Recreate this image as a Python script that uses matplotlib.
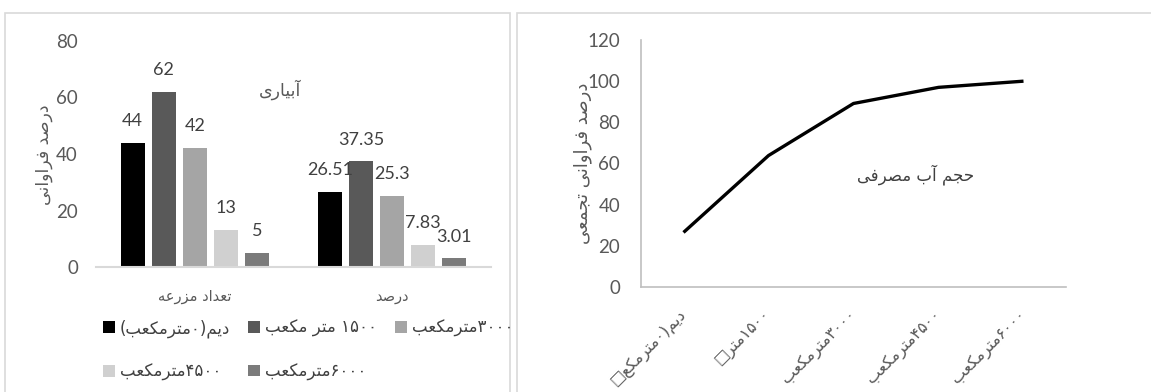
import matplotlib
matplotlib.use("Agg")
import matplotlib.pyplot as plt
from matplotlib.patches import Rectangle
import numpy as np

# data
categories = ["تعداد مزرعه", "درصد"]
series_names = ["دیم(۰مترمکعب)", "۱۵۰۰ متر مکعب", "۳۰۰۰مترمکعب", "۴۵۰۰مترمکعب", "۶۰۰۰مترمکعب"]
farm_counts = [44, 62, 42, 13, 5]
percents = [26.51, 37.35, 25.3, 7.83, 3.01]
bar_colors = ["#000000", "#595959", "#a5a5a5", "#d0d0d0", "#7b7b7b"]

cum_labels = ["دیم(۰مترمکع□", "۱۵۰۰متر□", "۳۰۰۰مترمکعب", "۴۵۰۰مترمکعب", "۶۰۰۰مترمکعب"]
cum_percent = [26.51, 63.86, 89.16, 96.99, 100]

left_title = "آبیاری"
left_ylabel = "درصد فراوانی"
right_title = "حجم آب مصرفی"
right_ylabel = "درصد فراوانی تجمعی"


# --- tiny arabic/persian shaper (matplotlib has no shaping) ---
# iso, fin, ini, med ; None for letters that do not join forward
FORMS = {
    'ا': (0xFE8D, 0xFE8E, None, None), 'آ': (0xFE81, 0xFE82, None, None),
    'ب': (0xFE8F, 0xFE90, 0xFE91, 0xFE92), 'پ': (0xFB56, 0xFB57, 0xFB58, 0xFB59),
    'ت': (0xFE95, 0xFE96, 0xFE97, 0xFE98), 'ج': (0xFE9D, 0xFE9E, 0xFE9F, 0xFEA0),
    'ح': (0xFEA1, 0xFEA2, 0xFEA3, 0xFEA4), 'د': (0xFEA9, 0xFEAA, None, None),
    'ر': (0xFEAD, 0xFEAE, None, None), 'ز': (0xFEAF, 0xFEB0, None, None),
    'س': (0xFEB1, 0xFEB2, 0xFEB3, 0xFEB4), 'ص': (0xFEB9, 0xFEBA, 0xFEBB, 0xFEBC),
    'ع': (0xFEC9, 0xFECA, 0xFECB, 0xFECC), 'ف': (0xFED1, 0xFED2, 0xFED3, 0xFED4),
    'ک': (0xFB8E, 0xFB8F, 0xFB90, 0xFB91), 'ل': (0xFEDD, 0xFEDE, 0xFEDF, 0xFEE0),
    'م': (0xFEE1, 0xFEE2, 0xFEE3, 0xFEE4), 'ن': (0xFEE5, 0xFEE6, 0xFEE7, 0xFEE8),
    'ه': (0xFEE9, 0xFEEA, 0xFEEB, 0xFEEC), 'و': (0xFEED, 0xFEEE, None, None),
    'ی': (0xFBFC, 0xFBFD, 0xFBFE, 0xFBFF),
}
MIRROR = {'(': ')', ')': '('}


def fa(text):
    out = []
    n = len(text)
    for i, ch in enumerate(text):
        f = FORMS.get(ch)
        if f is None:
            out.append(ch)
            continue
        prev_j = i > 0 and text[i - 1] in FORMS and FORMS[text[i - 1]][2] is not None
        next_j = f[2] is not None and i + 1 < n and text[i + 1] in FORMS
        if prev_j and next_j:
            out.append(chr(f[3]))
        elif prev_j:
            out.append(chr(f[1]))
        elif next_j:
            out.append(chr(f[2]))
        else:
            out.append(chr(f[0]))
    # visual order: reverse, but keep digit runs
    tokens = []
    for ch in out:
        if ch.isdigit() and tokens and tokens[-1][0].isdigit():
            tokens[-1] += ch
        else:
            tokens.append(ch)
    return "".join(MIRROR.get(t, t) for t in reversed(tokens))


AR = ["DejaVu Sans"]
NUM = ["Lato", "DejaVu Sans"]
plt.rcParams['font.family'] = NUM

W, H = 1151, 392
fig = plt.figure(figsize=(W / 100, H / 100), dpi=100)

# panel frames
for x0, x1 in [(5, 510), (517, 1160)]:
    fig.patches.append(Rectangle((x0 / W, -0.05), (x1 - x0) / W, 1 - 13 / H + 0.05,
                                 transform=fig.transFigure, fill=False,
                                 edgecolor="#d9d9d9", lw=1.2))

# ---------- left: grouped bars ----------
ax = fig.add_axes([96 / W, 1 - 267 / H, 395 / W, 226 / H])
x = np.arange(len(categories))
step, bw = 0.157, 0.122
handles = []
for i, name in enumerate(series_names):
    vals = [farm_counts[i], percents[i]]
    b = ax.bar(x + (i - 2) * step, vals, bw, color=bar_colors[i], label=fa(name))
    handles.append(b)
    for rect, v in zip(b, vals):
        ax.annotate(f"{v:g}", (rect.get_x() + rect.get_width() / 2, rect.get_height()),
                    xytext=(0, 10), textcoords="offset points", ha="center", va="bottom",
                    fontsize=13, color="#404040")
ax.set_xlim(-0.5, 1.5)
ax.set_ylim(0, 80)
ax.set_yticks(range(0, 81, 20))
ax.set_xticks(x)
ax.set_xticklabels([fa(c) for c in categories], family=AR, fontsize=10.5, color="#595959")
for s in ["top", "right", "left"]:
    ax.spines[s].set_visible(False)
ax.spines["bottom"].set_color("#d9d9d9")
ax.spines["bottom"].set_linewidth(1.5)
ax.tick_params(axis="both", length=0)
ax.tick_params(axis="y", labelsize=13.5, labelcolor="#595959", pad=13)
ax.tick_params(axis="x", pad=16)
ax.text(0.466, 0.783, fa(left_title), transform=ax.transAxes, ha="center", va="center",
        family=AR, fontsize=12.5, color="#595959")
fig.text(44 / W, 1 - 155 / H, fa(left_ylabel), rotation=90, ha="center", va="center",
         family=AR, fontsize=12.5, color="#595959")

order = [0, 3, 1, 4, 2]
fig.legend([handles[k] for k in order], [fa(series_names[k]) for k in order],
           loc="upper left", bbox_to_anchor=(103 / W, 1 - 319 / H), ncol=3, frameon=False,
           prop={"family": AR, "size": 12}, handlelength=0.7, handleheight=0.7,
           handletextpad=0.3, columnspacing=1.1, labelspacing=1.5, borderaxespad=0,
           borderpad=0, labelcolor="#404040")

# ---------- right: cumulative line ----------
ax2 = fig.add_axes([641 / W, 1 - 287 / H, 425 / W, 247 / H])
xp = np.arange(len(cum_labels))
ax2.plot(xp, cum_percent, color="black", lw=2.4, solid_capstyle="butt")
ax2.set_xlim(-0.5, len(cum_labels) - 0.5)
ax2.set_ylim(0, 120)
ax2.set_yticks(range(0, 121, 20))
ax2.set_xticks(xp)
ax2.set_xticklabels([fa(c) for c in cum_labels], family=AR, fontsize=11.5, color="#595959",
                    rotation=45, ha="right", va="center", rotation_mode="anchor")
for s in ["top", "right"]:
    ax2.spines[s].set_visible(False)
for s in ["left", "bottom"]:
    ax2.spines[s].set_color("#bfbfbf")
    ax2.spines[s].set_linewidth(1.2)
ax2.tick_params(axis="both", length=0)
ax2.tick_params(axis="y", labelsize=13.5, labelcolor="#595959", pad=15)
ax2.tick_params(axis="x", pad=18)
ax2.text(0.647, 0.453, fa(right_title), transform=ax2.transAxes, ha="center", va="center",
         family=AR, fontsize=12, color="#404040")
fig.text(583 / W, 1 - 163 / H, fa(right_ylabel), rotation=90, ha="center", va="center",
         family=AR, fontsize=13, color="#595959")

fig.savefig("out.png", dpi=100, facecolor="white")
